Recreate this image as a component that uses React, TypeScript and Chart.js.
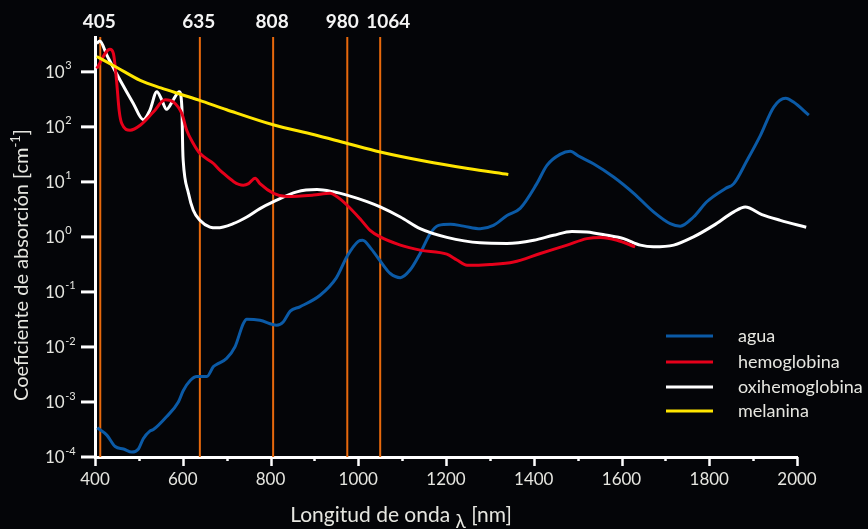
import React, { useEffect, useRef } from "react";
import { Chart, registerables } from "chart.js";

Chart.register(...registerables);

// ---------- data ----------
const aguaX = [405, 427, 446, 465, 484, 499, 510, 525, 533, 563, 590, 601, 617, 632, 655, 670, 677, 700, 719, 738, 746, 776, 814, 829, 845, 867, 913, 950, 975, 1000, 1010, 1030, 1054, 1073, 1096, 1118, 1141, 1164, 1183, 1210, 1240, 1278, 1308, 1339, 1369, 1407, 1430, 1460, 1483, 1502, 1536, 1582, 1628, 1673, 1711, 1734, 1764, 1795, 1837, 1856, 1886, 1917, 1947, 1974, 1992, 2027];
const aguaY = [3.4e-4, 2.5e-4, 1.55e-4, 1.4e-4, 1.23e-4, 1.4e-4, 2.15e-4, 2.95e-4, 3.15e-4, 5.4e-4, 1.0e-3, 1.6e-3, 2.45e-3, 2.9e-3, 2.9e-3, 4.4e-3, 4.8e-3, 6.2e-3, 0.01, 0.0266, 0.0319, 0.0305, 0.0248, 0.0285, 0.0447, 0.0537, 0.087, 0.18, 0.45, 0.83, 0.87, 0.6, 0.33, 0.216, 0.182, 0.25, 0.5, 1.15, 1.62, 1.7, 1.57, 1.41, 1.62, 2.45, 3.3, 9.3, 20, 31.6, 36, 29.5, 21.4, 12.3, 6.2, 2.85, 1.74, 1.57, 2.3, 4.4, 7.6, 9.3, 24.5, 71, 229, 330, 282, 163];

const hemoX = [404, 434, 442, 449, 455, 461, 480, 503, 533, 560, 579, 598, 609, 624, 639, 670, 685, 738, 750, 765, 776, 807, 837, 898, 936, 951, 974, 1004, 1027, 1050, 1096, 1141, 1202, 1225, 1248, 1301, 1354, 1415, 1476, 1521, 1552, 1590, 1631];
const hemoY = [1150, 2570, 2140, 710, 200, 115, 87, 107, 186, 310, 282, 174, 87, 50, 33, 21.6, 16.2, 8.7, 9.3, 11.7, 9.3, 6.2, 5.4, 5.75, 6.2, 5.4, 3.8, 2.14, 1.32, 1.0, 0.71, 0.575, 0.485, 0.38, 0.305, 0.316, 0.35, 0.5, 0.71, 0.93, 0.98, 0.87, 0.66];

const oxiX = [404, 411, 427, 457, 487, 510, 525, 541, 552, 563, 579, 592, 598, 600, 601, 613, 624, 639, 662, 678, 715, 746, 776, 807, 860, 906, 943, 974, 1020, 1050, 1096, 1141, 1202, 1278, 1339, 1400, 1445, 1487, 1521, 1567, 1605, 1643, 1673, 1719, 1764, 1810, 1856, 1882, 1920, 1962, 2021];
const oxiY = [3300, 3630, 2000, 710, 270, 135, 200, 436, 310, 209, 316, 436, 229, 38, 24.5, 6.2, 3.05, 2.0, 1.51, 1.46, 1.74, 2.3, 3.27, 4.37, 6.6, 7.24, 6.6, 5.75, 4.37, 3.5, 2.3, 1.41, 0.98, 0.78, 0.76, 0.87, 1.07, 1.26, 1.23, 1.07, 0.93, 0.71, 0.66, 0.71, 1.0, 1.62, 2.85, 3.5, 2.55, 2.0, 1.5];

const melX = [404, 450, 503, 550, 600, 637, 700, 806, 900, 975, 1050, 1150, 1250, 1342];
const melY = [1900, 1200, 700, 510, 380, 306, 205, 109, 72, 50, 35, 24, 17.5, 13.6];

const laserPositions = [412, 639, 806, 975, 1050];
const laserLabels = ["405", "635", "808", "980", "1064"];

const seriesNames = ["agua", "hemoglobina", "oxihemoglobina", "melanina"];
const seriesColors = ["#0b5aa6", "#e6001a", "#ffffff", "#ffe600"];

const xMajorTicks = [400, 600, 800, 1000, 1200, 1400, 1600, 1800, 2000];
const xMinorTicks = [500, 700, 900, 1100, 1300, 1500, 1700, 1900];
const yTickExponents = [-4, -3, -2, -1, 0, 1, 2, 3];

const X_MIN = 400;
const X_MAX = 2000;
const Y_MIN = 1e-4;
const Y_MAX = 4300;

const FONT = "Lato, 'Open Sans', 'DejaVu Sans', sans-serif";
const TEXT = "#e6e6e0";
const ORANGE = "#e8690c";
const BG = "#040508";

const laserLabelShift = [-1, -1, -1, -5, 8];

const decorPlugin = {
  id: "decor",
  afterDraw(chart: any) {
    const ctx = chart.ctx as CanvasRenderingContext2D;
    const xs = chart.scales.x;
    const ys = chart.scales.y;
    const area = chart.chartArea;
    ctx.save();

    // x tick marks
    ctx.strokeStyle = "#ffffff";
    ctx.lineWidth = 2.5;
    xMajorTicks.forEach((v) => {
      const px = Math.round(xs.getPixelForValue(v)) + 0.5;
      ctx.beginPath();
      ctx.moveTo(px, area.bottom);
      ctx.lineTo(px, area.bottom + 9);
      ctx.stroke();
    });
    xMinorTicks.forEach((v) => {
      const px = Math.round(xs.getPixelForValue(v)) + 0.5;
      ctx.beginPath();
      ctx.moveTo(px, area.bottom);
      ctx.lineTo(px, area.bottom + 4);
      ctx.stroke();
    });

    // y tick marks + labels
    ctx.lineWidth = 3;
    yTickExponents.forEach((e) => {
      const py = ys.getPixelForValue(Math.pow(10, e));
      ctx.beginPath();
      ctx.moveTo(area.left - 14, py);
      ctx.lineTo(area.left, py);
      ctx.stroke();
      ctx.fillStyle = TEXT;
      ctx.textBaseline = "middle";
      ctx.textAlign = "left";
      ctx.font = `17px ${FONT}`;
      ctx.fillText("10", 45, py + 1);
      const w = ctx.measureText("10").width;
      ctx.font = `11px ${FONT}`;
      ctx.fillText(String(e), 45 + w + 0.5, py - 6);
    });

    // laser labels
    ctx.fillStyle = "#f4f4f4";
    ctx.font = `bold 19px ${FONT}`;
    ctx.textAlign = "center";
    ctx.textBaseline = "middle";
    laserPositions.forEach((v, i) => {
      const px = xs.getPixelForValue(v) + laserLabelShift[i];
      ctx.fillText(laserLabels[i], px, 22);
    });

    // legend
    const legY = [336, 362, 387, 411];
    seriesNames.forEach((name, i) => {
      ctx.strokeStyle = seriesColors[i];
      ctx.lineWidth = 3;
      ctx.beginPath();
      ctx.moveTo(666, legY[i]);
      ctx.lineTo(713, legY[i]);
      ctx.stroke();
      ctx.fillStyle = TEXT;
      ctx.font = `18px ${FONT}`;
      ctx.textAlign = "left";
      ctx.textBaseline = "middle";
      ctx.fillText(name, 738, legY[i]);
    });

    // x title
    ctx.fillStyle = TEXT;
    ctx.textBaseline = "alphabetic";
    ctx.textAlign = "left";
    ctx.font = `21px ${FONT}`;
    const p1 = "Longitud de onda ";
    const p3 = " [nm]";
    const w1 = ctx.measureText(p1).width;
    const w3 = ctx.measureText(p3).width;
    ctx.font = `19px ${FONT}`;
    const w2 = ctx.measureText("\u03bb").width;
    const total = w1 + w2 + w3;
    let sx = 401 - total / 2;
    const baseY = 522;
    ctx.font = `21px ${FONT}`;
    ctx.fillText(p1, sx, baseY);
    sx += w1;
    ctx.font = `19px ${FONT}`;
    ctx.fillText("\u03bb", sx, baseY + 6);
    sx += w2;
    ctx.font = `21px ${FONT}`;
    ctx.fillText(p3, sx, baseY);

    // y title (rotated)
    ctx.save();
    ctx.translate(28, 265);
    ctx.rotate(-Math.PI / 2);
    ctx.font = `20px ${FONT}`;
    const t1 = "Coeficiente de absorción [cm";
    const t3 = "]";
    const tw1 = ctx.measureText(t1).width;
    const tw3 = ctx.measureText(t3).width;
    ctx.font = `13px ${FONT}`;
    const tw2 = ctx.measureText("-1").width;
    let ty = -(tw1 + tw2 + tw3) / 2;
    ctx.font = `20px ${FONT}`;
    ctx.fillText(t1, ty, 0);
    ty += tw1;
    ctx.font = `13px ${FONT}`;
    ctx.fillText("-1", ty, -8);
    ty += tw2;
    ctx.font = `20px ${FONT}`;
    ctx.fillText(t3, ty, 0);
    ctx.restore();

    ctx.restore();
  },
};

function pairs(xv: number[], yv: number[]) {
  return xv.map((x, i) => ({ x, y: yv[i] }));
}

export default function App() {
  const ref = useRef<HTMLCanvasElement | null>(null);

  useEffect(() => {
    document.body.style.margin = "0";
    document.body.style.background = BG;
    const canvas = ref.current;
    if (!canvas) return;

    const curveSets = [
      { x: aguaX, y: aguaY, order: 4 },
      { x: hemoX, y: hemoY, order: 2 },
      { x: oxiX, y: oxiY, order: 3 },
      { x: melX, y: melY, order: 1 },
    ];

    const datasets: any[] = curveSets.map((s, i) => ({
      label: seriesNames[i],
      data: pairs(s.x, s.y),
      borderColor: seriesColors[i],
      backgroundColor: seriesColors[i],
      borderWidth: 3,
      pointRadius: 0,
      cubicInterpolationMode: "monotone",
      clip: false,
      order: s.order,
      fill: false,
    }));

    laserPositions.forEach((v, i) => {
      datasets.push({
        label: "laser " + laserLabels[i],
        data: [
          { x: v, y: Y_MIN },
          { x: v, y: Y_MAX },
        ],
        borderColor: ORANGE,
        borderWidth: 2,
        pointRadius: 0,
        order: 10,
        clip: false,
        fill: false,
      });
    });

    const chart = new Chart(canvas, {
      type: "line",
      data: { datasets },
      options: {
        animation: false,
        responsive: false,
        maintainAspectRatio: false,
        events: [],
        layout: { padding: { left: 0, top: 37, right: 71, bottom: 0 } },
        plugins: {
          legend: { display: false },
          tooltip: { enabled: false },
        },
        scales: {
          x: {
            type: "linear",
            min: X_MIN,
            max: X_MAX,
            grid: { display: false, drawTicks: false },
            border: { display: true, color: "#ffffff", width: 3 },
            ticks: {
              stepSize: 200,
              autoSkip: false,
              maxRotation: 0,
              color: TEXT,
              padding: 12,
              font: { family: FONT, size: 17 },
              callback: (v: any) => String(v),
            },
            afterFit: (scale: any) => {
              scale.height = 72;
            },
          },
          y: {
            type: "logarithmic",
            min: Y_MIN,
            max: Y_MAX,
            grid: { display: false, drawTicks: false },
            border: { display: true, color: "#ffffff", width: 3 },
            ticks: { display: false },
            afterFit: (scale: any) => {
              scale.width = 95;
            },
          },
        },
      } as any,
      plugins: [decorPlugin],
    });

    return () => chart.destroy();
  }, []);

  return (
    <div
      style={{
        position: "fixed",
        left: 0,
        top: 0,
        width: 868,
        height: 529,
        background: BG,
      }}
    >
      <canvas ref={ref} width={868} height={529} style={{ display: "block" }} />
    </div>
  );
}
